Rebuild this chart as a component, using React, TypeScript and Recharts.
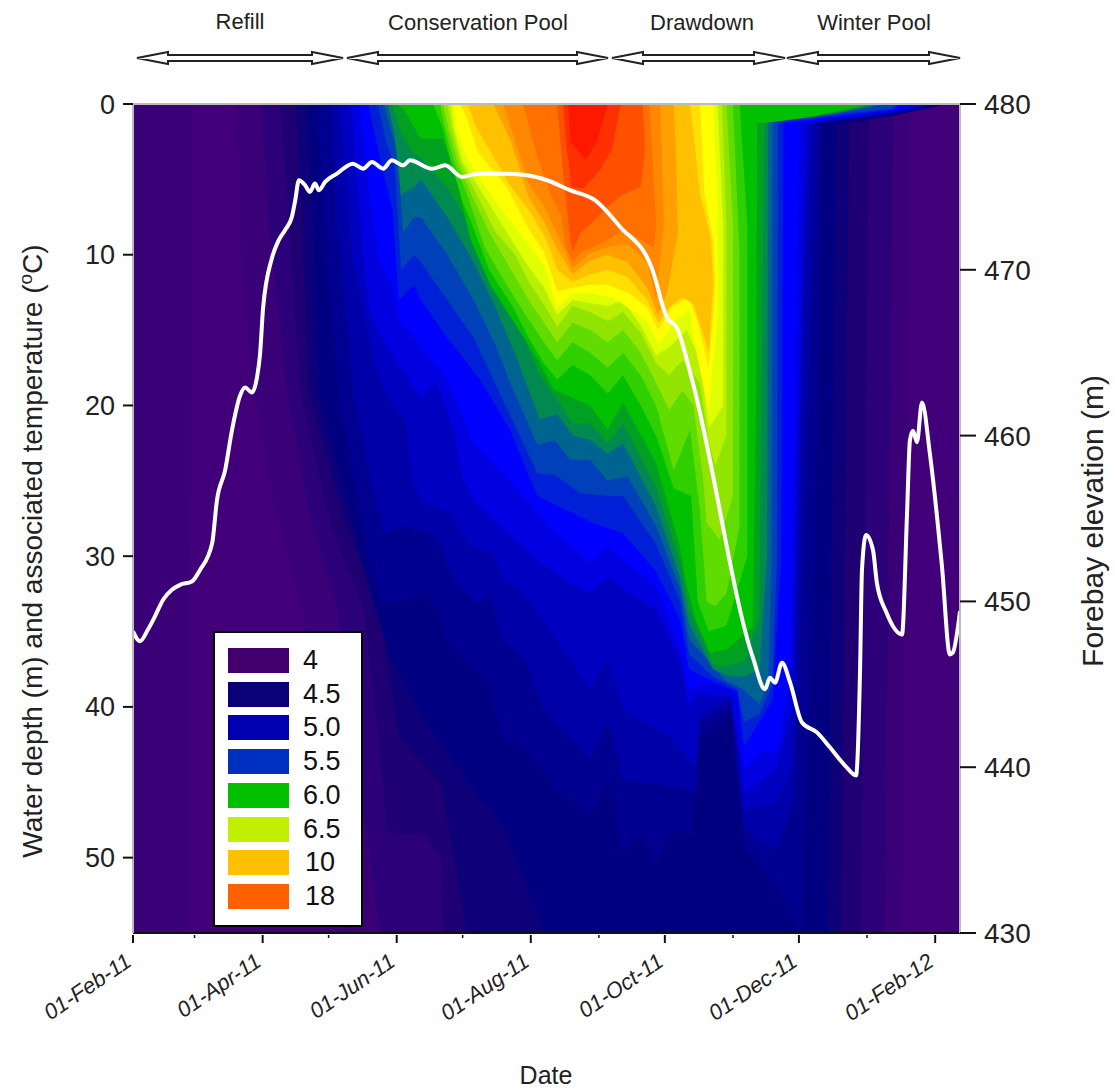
import React from 'react';
import { ComposedChart, Area, Line, XAxis, YAxis } from 'recharts';

// x = days since 01-Feb-11, y = depth (m) down to which water is at least as warm as the band
const bandBase = [[0,55],[376.3,55]];
const bandA = [[0,55],[25,55],[27,0],[47,0],[50,12],[55,19],[65,27],[77,33.5],[85,42],[95,55],[350,55],[353.5,0]];
const bandB = [[58,0],[62,8],[70,19],[80,27],[93,33.5],[100,42],[108,50],[112,55],[342,55],[346,0]];
const bandC = [[67,0],[71,8],[76,19],[90,28],[105,33.5],[113,44],[115.4,48.4],[132,48.4],[140,50],[141,55],[331,55],[335,0]];
const bandD = [[74,0],[77,8],[80,19],[95,27],[111.5,33.5],[121,42],[130,43.5],[140,45],[152,55],[322,55],[326,0]];
const bandE = [[79,0],[82,8],[84,19],[98,27],[110,33.5],[118,37],[129,40],[140,42.5],[155,45.5],[168.5,48],[187,55],[316,55],[320,1.4],[345,0.8],[371,0]];
const bandF = [[84,0],[87,8],[93,19],[103,27],[112,33],[123,33],[132,32.5],[138,33.3],[143,35.6],[150,36.9],[161,38.2],[168.5,42.2],[178,42.7],[193,45.7],[200,46.2],[208,47.3],[216,45],[223,49.7],[231,48.4],[238,50.4],[246,48],[254,48.6],[258,42],[264,41.5],[272,40.3],[275,45],[278,49.3],[285,50.5],[293,52],[304,55],[310,30],[314,1.3],[320,1.15],[345,0.7],[368,0]];
const bandG = [[90,0],[93,8],[100,19],[108,25],[114,28.5],[123,28],[138,28.7],[146,31.6],[156.4,33.1],[162.5,32.7],[168.5,35.6],[179,36.9],[185,39.8],[208,43.5],[216,40.9],[223,44.9],[240,45.1],[256,45.7],[258,41],[264,40.6],[272,39.8],[275,44],[278,48],[285,49],[293,49.5],[301,46],[308,15],[311.7,1.3],[320,1.1],[345,0.65],[366,0]];
const bandH = [[94,0],[100,10.5],[111,18],[116,19.6],[124,21],[127,25],[132,26.5],[144,27.1],[153.4,29.4],[164,29.8],[168.5,31.6],[178,32.5],[199,36.9],[208,38.9],[216,36.9],[223,40.2],[244.4,42],[256,44],[258,40.5],[264,40],[272,39.5],[275,43],[278,46.9],[285,46.6],[293,46.4],[300,44],[306,10],[309,1.3],[320,1.05],[345,0.6],[364,0]];
const bandI = [[99,0],[105,10.5],[108,14],[115,16],[124,18],[131,19.5],[138,18.5],[146,21.6],[150,24.9],[155,26.3],[165,27.8],[184,30.2],[199,31.8],[208,32.5],[216,31.4],[238,33.6],[249,37],[253,40],[258,39],[264,39.3],[272,39.2],[275,42],[278,45.7],[285,45],[293,44],[300,40],[305,8],[306.7,1.3],[320,1],[345,0.55],[362,0]];
const bandJ = [[103,0],[108,6.4],[112,10.4],[118,12],[121.5,14.5],[128,15.5],[143,18.3],[155,22.5],[173,25.2],[191,28.3],[208,30.4],[216,29.4],[238,32],[249,36],[253,38.9],[258,38.5],[264,38.5],[272,38.9],[275,39.2],[278,44.2],[285,43],[293,43],[299,38],[303,5],[303.5,1.3],[321,0.9],[345,0.5],[360,0]];
const bandK = [[107,0],[113,4],[118,7],[121,13],[128,12],[131,13],[143,15.5],[158,18.3],[171.5,21.6],[184,26],[208,27.7],[223,28.5],[238,31],[249,34.2],[253,37.5],[264,38.3],[272,38.8],[275,39],[278,42.6],[285,41],[291,39.5],[295,30],[296,1.25],[320,0.8],[345,0.4],[350,0]];
const bandL = [[111.5,0],[115,2.5],[119,4],[122,11],[128,10],[131,10.5],[143,13],[155,15.5],[164,18.3],[176,22],[184,24.5],[192,24.6],[203.4,25.8],[216,26],[223,26],[238,29.2],[249,33],[253,36.5],[264,38],[272,38.6],[275,38.8],[278,41],[285,40.5],[291,38.5],[293,30],[293.5,1.2],[320,0.7],[345,0.3],[348,0]];
const bandM = [[114,0],[117,1.5],[120,3],[123,8.5],[128,7.5],[131,7.5],[143,10],[155,13],[165,16],[171,18.3],[184,22.6],[192,22.3],[199,23.6],[208,23.6],[216,25],[225,24.7],[238,28],[249,32.2],[253,35.5],[264,37.3],[270,38.3],[275,38.6],[278,38.9],[285,39.8],[289,38.5],[290.5,30],[291,1.2],[320,0.65],[342,0]];
const bandN = [[116,0],[119,2],[122,6],[128,5.5],[131,5],[143,7.5],[155,10.5],[165,13.5],[175,17],[185,20.9],[193,20.6],[200,22],[208,22.3],[216,23.2],[223,22.5],[238,26.7],[249,31.5],[253,34.5],[264,37.5],[270,37.9],[278,38],[285,37.5],[288.5,30],[289,1.2],[320,0.6],[340,0]];
const bandO = [[118,0],[122,2],[128,3.3],[131,3.6],[143,5.5],[155,8.5],[165,11.5],[175,14.5],[185,18],[193,19.6],[200,21.2],[208,21.2],[216,22.5],[223,21.2],[238,25.4],[249,30.5],[253,33.5],[264,37.2],[270,37.3],[278,37],[285,34],[287,5],[287.5,1.25],[310,0.85],[338,0]];
const bandP = [[120,0],[123,0.3],[131,2.3],[141,2.3],[147,4.9],[153.4,8.9],[162.5,12],[173,14.4],[184,16.9],[191.3,18.9],[200,19.5],[208,20],[216,21.6],[223,19.8],[238,23.8],[249,29.5],[252,32],[256.5,34.4],[262.6,36.4],[270,36.2],[282,34.7],[283.5,20],[284,1.3],[296,1.1],[310,0.8],[335,0]];
const bandQ = [[136.5,0],[141,1.6],[144.6,3.8],[150,6.5],[153,7.5],[162,11],[173,13.5],[180,15.5],[187,17.2],[193,18.3],[200,17.3],[208,18],[216,19.2],[223,18],[231,20],[238,22],[246,25.5],[254,26],[257,33],[262,35],[270,34.6],[279.5,30],[279.5,8],[276,0]];
const bandR = [[139.7,0],[142,1.6],[146,3.8],[152,6],[160,9.5],[170,12],[180,14.3],[187,15.8],[193,17],[200,15.8],[208,16.5],[216,17.5],[223,16.5],[231,18],[238,20],[246,24.3],[253.5,21.6],[258,27],[261,33],[265,33.3],[270,32.5],[276,28],[276,10],[273,0]];
const bandS = [[141,0],[143.5,1.6],[147.6,3.8],[154,6],[162,8.5],[172,11],[180,13],[187,14.5],[193,15.8],[200,14.5],[208,15],[216,15.8],[223,15],[231,16.5],[238,18.5],[244,20.3],[250,19],[255,20],[259.5,25],[261,27.8],[267,28.9],[273,26],[273,8],[270,0]];
const bandT = [[143,0],[145,1.6],[148.8,3.8],[156.4,6],[165,8.5],[174,10],[180,11.8],[187,13.3],[193,14.8],[200,13.4],[208,13.8],[216,14.4],[223,13.8],[231,15.2],[238,17.2],[244,18],[250,17],[258,18.5],[262,22.5],[265,24],[270,22],[270,8],[268,0]];
const bandU = [[144.5,0],[146,1.6],[150,3.8],[159.4,6],[170,8.5],[180,10.8],[187,12.2],[193,14],[200,13],[208,13.2],[216,13.4],[223,13],[231,14.7],[238,16.7],[245,16],[252,15],[258,17],[262,21.5],[268.5,20],[268.5,8],[266,0]];
const bandV = [[146,0],[147,1.6],[152.6,3.8],[162.5,6],[178,9],[187,10.7],[192,13.1],[193,13.5],[200,12.6],[208,12.5],[219,12.9],[234,14.4],[239,16],[246,14.5],[253,13.6],[257,17],[262,20.3],[266,14],[266,7],[264,0]];
const bandW = [[149,0],[152,1],[157,3.2],[170,5.5],[180,8.3],[187,9.8],[192,12],[193,12.4],[200,12.2],[208,12],[216,12],[225,12.5],[234,13.5],[239,15],[245,13.5],[253,12.8],[257,14.5],[262,17.5],[265,12],[264,9],[260,6],[258,0]];
const bandX = [[152.5,0],[156,1.5],[164,3.5],[172,5.5],[180,7],[187,8.7],[192,10.5],[193,11],[200,11.8],[208,11.3],[216,11],[225,11.5],[234,13],[239,14.5],[244,13.5],[250,12.8],[255,13.3],[262,16.4],[264,12],[263,9],[258,6],[253.5,0]];
const bandY = [[164,0],[172,2.5],[180,6.2],[187,7.8],[193,9.6],[200,11.3],[208,10.4],[216,10],[225,10.5],[234,12.2],[239,14],[243,12.5],[248,8.5],[247,3],[246,0]];
const bandZ = [[168.5,0],[175,3],[180,5.3],[187,6.8],[193,8.6],[200,10.9],[208,9.9],[216,9.5],[225,9.3],[234,10.5],[238,13],[241.5,8],[240,0]];
const bandAA = [[177.5,0],[184,3.5],[190,6],[195,7.5],[197,9.5],[200,10.5],[204,9.8],[208,9.6],[216,9],[223,8.3],[231,9],[237,9.5],[238,8],[235,0]];
const bandAB = [[193,0],[196,5],[199,9],[200,9.8],[204,8.5],[208,8],[216,6.8],[223,6],[231,5.5],[233,3],[232,0]];
const bandAC = [[195.8,0],[197,2.5],[199.5,5.5],[205,5.6],[212,4.5],[218,3],[222,0]];
const bandAD = [[198,0],[199,2.5],[206,3.7],[211,2.5],[216,0]];

const bands = [bandBase, bandA, bandB, bandC, bandD, bandE, bandF, bandG, bandH, bandI, bandJ, bandK, bandL, bandM, bandN, bandO, bandP, bandQ, bandR, bandS, bandT, bandU, bandV, bandW, bandX, bandY, bandZ, bandAA, bandAB, bandAC, bandAD];
const bandColors = ['#41007a', '#390078', '#2c0078', '#1e0072', '#0e0078', '#000080', '#000090', '#0000a8', '#0000c0', '#0000e0', '#0000ff', '#0020d8', '#0040b8', '#006490', '#008a50', '#00a020', '#00c000', '#30d000', '#60dc00', '#90e400', '#b8f000', '#e0ff00', '#ffff00', '#ffe000', '#ffc000', '#ffa000', '#ff8800', '#ff7000', '#ff5000', '#ff3000', '#ff1800'];

const elevationDays = [0,3.2,6.8,10,13.7,17.7,21.4,26.8,30.5,36,38.2,41.9,45,48.7,51,54.1,56.4,57.8,59.2,63.2,66,69.2,72.3,73.7,75.5,78.3,80.5,82.8,84.6,87.4,92.8,100,104.7,108.7,113.8,117.8,122.9,126,136,142,149.7,156.5,168.4,179.3,188.4,198.8,210.2,221.6,236.1,243,247.5,254.3,282.1,287.6,289.8,292.1,295.3,299,304.4,311.2,317.1,324,329,330.8,331.7,333.5,336.7,338.5,342.6,349.9,352.2,353.5,354.9,356.7,359,362.6,368.1,371.7,373,376.3];
const elevationValues = [448.2,447.6,448.3,449.1,450.1,450.7,451,451.2,451.9,453.5,456.1,457.9,460.3,462.4,462.9,462.6,463.5,464.9,467.7,470.7,471.7,472.4,473.2,474.1,475.4,475.1,474.7,475.2,474.8,475.3,475.8,476.4,476.1,476.5,476.1,476.6,476.3,476.6,476.1,476.3,475.6,475.8,475.8,475.7,475.4,474.8,474.2,472.6,470.1,467.1,466.5,463.4,446.6,444.7,445.4,445.1,446.3,445.1,442.7,442.1,441.2,440.1,439.5,445.7,451.9,454,453.1,451.1,449.4,448,455.3,459.7,460.3,459.6,462,458.9,452.1,446.8,446.9,449.4];

const dateTicks = [0,28,59,89,120,150,181,212,242,273,303,334,365];
const dateLabels = ['01-Feb-11','','01-Apr-11','','01-Jun-11','','01-Aug-11','','01-Oct-11','','01-Dec-11','','01-Feb-12'];
const depthTicks = [0,10,20,30,40,50];
const elevationTicks = [430,440,450,460,470,480];

const legendLabels = ['4','4.5','5.0','5.5','6.0','6.5','10','18'];
const legendColors = ['#42006f','#0a0078','#0000b0','#0030c0','#00c000','#c0f000','#ffc000','#ff6000'];

const phaseLabels = ['Refill','Conservation Pool','Drawdown','Winter Pool'];
const phaseCenters = [240,478,702,874];
const phaseArrows = [[137,343],[347,608],[612,785],[787,960]];

const FONT = '"Liberation Sans", Arial, sans-serif';

const elevationRows = elevationDays.map((day, i) => ({ day, elevation: elevationValues[i] }));

const DateTick = ({ x, y, payload }: any) => {
  const label = dateLabels[dateTicks.indexOf(payload.value)];
  return (
    <g>
      <line x1={x} y1={y - 8} x2={x} y2={y + (label ? 0 : -5)} stroke="#111" strokeWidth={label ? 2 : 1.5} />
      {label && (
        <text
          x={x}
          y={y + 22}
          textAnchor="end"
          fontSize={22}
          fontStyle="italic"
          fontFamily={FONT}
          fill="#222"
          transform={`rotate(-34 ${x} ${y + 22})`}
        >
          {label}
        </text>
      )}
    </g>
  );
};

const arrowPath = (a: number, b: number, y: number) =>
  `M${a} ${y} L${a + 31} ${y - 6} L${a + 31} ${y - 3} L${b - 31} ${y - 3} L${b - 31} ${y - 6} L${b} ${y} L${b - 31} ${y + 6} L${b - 31} ${y + 3} L${a + 31} ${y + 3} L${a + 31} ${y + 6} Z`;

const App = () => (
  <div style={{ position: 'absolute', left: 0, top: 0, width: 1115, height: 1089, background: '#fff', fontFamily: FONT }}>
    <ComposedChart width={1115} height={1089} margin={{ top: 104, right: 65, bottom: 96, left: 63 }}>
      <XAxis
        xAxisId="date"
        dataKey="day"
        type="number"
        domain={[0, 376.3]}
        allowDataOverflow
        ticks={dateTicks}
        interval={0}
        height={60}
        tickLine={false}
        tickSize={8}
        axisLine={{ stroke: '#111', strokeWidth: 2 }}
        tick={<DateTick />}
      />
      <YAxis
        yAxisId="depth"
        type="number"
        domain={[0, 55]}
        reversed
        allowDataOverflow
        ticks={depthTicks}
        interval={0}
        width={70}
        tickSize={10}
        tickMargin={8}
        axisLine={{ stroke: '#bbb', strokeWidth: 2 }}
        tickLine={{ stroke: '#111', strokeWidth: 2 }}
        tick={{ fontSize: 27, fill: '#222', fontFamily: FONT }}
      />
      <YAxis
        yAxisId="elevation"
        orientation="right"
        type="number"
        domain={[430, 480]}
        allowDataOverflow
        ticks={elevationTicks}
        interval={0}
        width={90}
        tickSize={16}
        tickMargin={8}
        axisLine={{ stroke: '#bbb', strokeWidth: 2 }}
        tickLine={{ stroke: '#111', strokeWidth: 2 }}
        tick={{ fontSize: 28, fill: '#222', fontFamily: FONT }}
      />
      {bands.map((band, i) => (
        <Area
          key={i}
          xAxisId="date"
          yAxisId="depth"
          data={band.map(([day, depth]) => ({ day, depth }))}
          dataKey="depth"
          type="linear"
          baseValue={0}
          fill={bandColors[i]}
          fillOpacity={1}
          stroke="none"
          dot={false}
          activeDot={false}
          isAnimationActive={false}
        />
      ))}
      <Line
        xAxisId="date"
        yAxisId="elevation"
        data={elevationRows}
        dataKey="elevation"
        type="monotone"
        stroke="#fff"
        strokeWidth={4}
        strokeLinejoin="round"
        dot={false}
        activeDot={false}
        isAnimationActive={false}
      />
    </ComposedChart>

    <svg width={1115} height={1089} style={{ position: 'absolute', left: 0, top: 0, pointerEvents: 'none' }}>
      <line x1={133} y1={104} x2={960} y2={104} stroke="#bbb" strokeWidth={2} />
      {phaseLabels.map((label, i) => (
        <text key={label} x={phaseCenters[i]} y={i === 0 ? 29 : 30} textAnchor="middle" fontSize={22} fontFamily={FONT} fill="#222">
          {label}
        </text>
      ))}
      {phaseArrows.map(([a, b]) => (
        <path key={a} d={arrowPath(a, b, 58)} fill="#fff" stroke="#222" strokeWidth={2} />
      ))}
      <text transform="translate(42 551) rotate(-90)" textAnchor="middle" fontSize={28} fontFamily={FONT} fill="#222">
        Water depth (m) and associated temperature (
        <tspan fontSize={19} dy={-10}>o</tspan>
        <tspan dy={10}>C)</tspan>
      </text>
      <text transform="translate(1103 521) rotate(-90)" textAnchor="middle" fontSize={30} fontFamily={FONT} fill="#222">
        Forebay elevation (m)
      </text>
      <text x={546} y={1084} textAnchor="middle" fontSize={25} fontFamily={FONT} fill="#222">
        Date
      </text>
    </svg>

    <div
      style={{
        position: 'absolute',
        left: 213,
        top: 631,
        width: 146,
        height: 292,
        background: '#fff',
        border: '2px solid #000',
      }}
    >
      {legendLabels.map((label, i) => (
        <div key={label} style={{ position: 'absolute', left: 13, top: 15 + i * 33.7, height: 25, display: 'flex', alignItems: 'center' }}>
          <div style={{ width: 61, height: 25, background: legendColors[i] }} />
          <span style={{ marginLeft: i > 5 ? 16 : 14, fontSize: 27, color: '#111' }}>{label}</span>
        </div>
      ))}
    </div>
  </div>
);

export default App;
